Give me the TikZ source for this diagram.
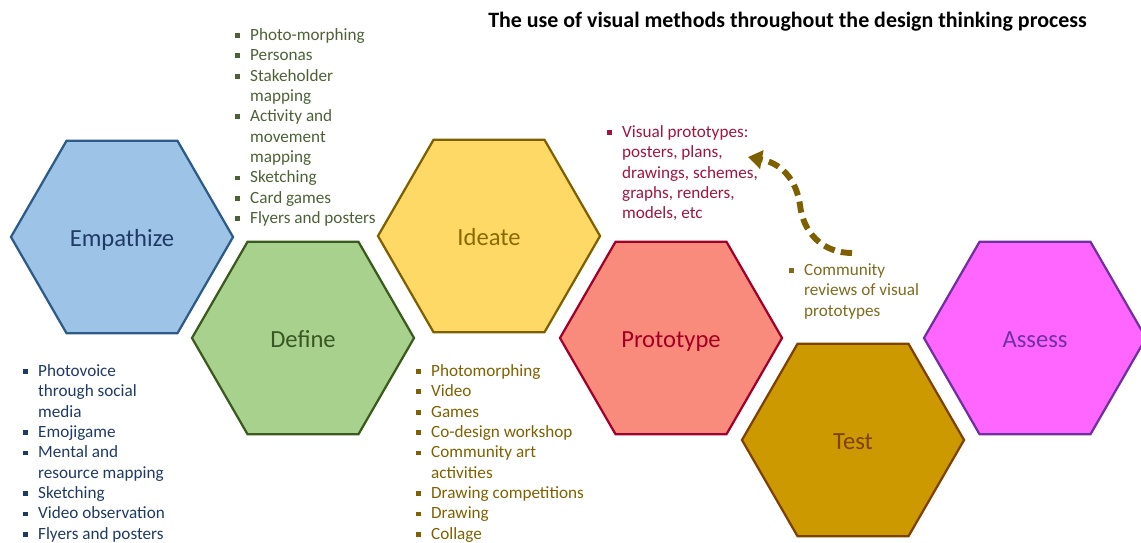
\documentclass[tikz,border=0pt]{standalone}
\usepackage{fontspec}
\setmainfont{Carlito}
\usepackage{xcolor}
\usetikzlibrary{arrows.meta, shapes.geometric}

\definecolor{empfill}{HTML}{9DC3E6}
\definecolor{empline}{HTML}{2E5A88}
\definecolor{emptext}{HTML}{1F3A64}
\definecolor{deffill}{HTML}{A9D18E}
\definecolor{defline}{HTML}{3B5A1E}
\definecolor{deftext}{HTML}{385723}
\definecolor{idefill}{HTML}{FFD966}
\definecolor{ideline}{HTML}{7F6000}
\definecolor{idetext}{HTML}{8A6A00}
\definecolor{profill}{HTML}{F88B7C}
\definecolor{proline}{HTML}{A0002A}
\definecolor{protext}{HTML}{A50021}
\definecolor{tstfill}{HTML}{CC9900}
\definecolor{tstline}{HTML}{7F4000}
\definecolor{tsttext}{HTML}{7F4000}
\definecolor{assfill}{HTML}{FF66FF}
\definecolor{assline}{HTML}{7030A0}
\definecolor{asstext}{HTML}{7030A0}
\definecolor{empitems}{HTML}{1F3A64}
\definecolor{defitems}{HTML}{4C6236}
\definecolor{ideitems}{HTML}{806000}
\definecolor{proitems}{HTML}{A0153E}
\definecolor{tstitems}{HTML}{7F6A1E}
\definecolor{revarrow}{HTML}{7F6000}

% bulleted line and its continuation
\newcommand{\itm}[1]{\strut\makebox[10.6pt][l]{\rule[1.8pt]{3.4pt}{3.4pt}}#1}
\newcommand{\ctd}[1]{\strut\hspace*{10.6pt}#1}

\tikzset{
  hexa/.style={
    shape=regular polygon,
    regular polygon sides=6,
    minimum size=5.55cm,
    inner sep=0pt,
    line width=1.6pt,
    text height=3ex,
    text depth=0.25ex,
    font=\fontsize{17.5}{20}\selectfont
  },
  items/.style={
    anchor=north west,
    align=left,
    inner sep=0pt,
    font=\fontsize{12.2}{14.5}\selectfont
  },
  heading/.style={
    anchor=base west,
    inner sep=0pt,
    font=\bfseries\fontsize{15.6}{18}\selectfont
  },
  review/.style={
    draw=revarrow,
    line width=4.2pt,
    dash pattern=on 8pt off 4.5pt,
    -{Triangle[length=10pt,width=13pt]}
  }
}

\begin{document}
\begin{tikzpicture}[x=0.025cm, y=-0.025cm]
  \useasboundingbox (0,0) rectangle (1141,543);
  \node (title) [heading] at (488,28) {The use of visual methods throughout the design thinking process};

  % the six stages
  \node (emp) [hexa, fill=empfill, draw=empline, text=emptext] at (122,237) {Empathize};
  \node (def) [hexa, fill=deffill, draw=defline, text=deftext] at (303,338) {Define};
  \node (ide) [hexa, fill=idefill, draw=ideline, text=idetext] at (489,236) {Ideate};
  \node (proto) [hexa, fill=profill, draw=proline, text=protext] at (671,338) {Prototype};
  \node (test) [hexa, fill=tstfill, draw=tstline, text=tsttext] at (853,440) {Test};
  \node (assess) [hexa, fill=assfill, draw=assline, text=asstext] at (1035,338) {Assess};

  % methods per stage
  \node (defl) [items, text=defitems] at (235,25.7) {\itm{Photo-morphing}\\ \itm{Personas}\\ \itm{Stakeholder}\\ \ctd{mapping}\\ \itm{Activity and}\\ \ctd{movement}\\ \ctd{mapping}\\ \itm{Sketching}\\ \itm{Card games}\\ \itm{Flyers and posters}};
  \node (empl) [items, text=empitems] at (23,361.7) {\itm{Photovoice}\\ \ctd{through social}\\ \ctd{media}\\ \itm{Emojigame}\\ \itm{Mental and}\\ \ctd{resource mapping}\\ \itm{Sketching}\\ \itm{Video observation}\\ \itm{Flyers and posters}};
  \node (idel) [items, text=ideitems] at (416,361.7) {\itm{Photomorphing}\\ \itm{Video}\\ \itm{Games}\\ \itm{Co-design workshop}\\ \itm{Community art}\\ \ctd{activities}\\ \itm{Drawing competitions}\\ \itm{Drawing}\\ \itm{Collage}};
  \node (protol) [items, text=proitems] at (607,122.7) {\itm{Visual prototypes:}\\ \ctd{posters, plans,}\\ \ctd{drawings, schemes,}\\ \ctd{graphs, renders,}\\ \ctd{models, etc}};
  \node (testl) [items, text=tstitems] at (789,260.7) {\itm{Community}\\ \ctd{reviews of visual}\\ \ctd{prototypes}};

  % feedback from the reviews to the prototypes
  \coordinate (revtail) at (852,253);
  \coordinate (revbend) at (800,205);
  \coordinate (revhead) at (748,157);
  \draw[review] (revtail) .. controls (822,253) and (803,232) .. (revbend)
    .. controls (796,178) and (780,163) .. (revhead);
\end{tikzpicture}
\end{document}
